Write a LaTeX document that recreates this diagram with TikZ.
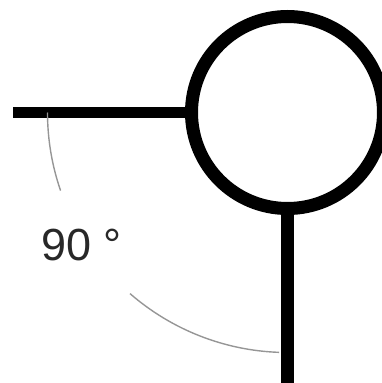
\documentclass[tikz,border=0pt]{standalone}
\usepackage{fontspec}
\setmainfont{Liberation Sans}
\usetikzlibrary{positioning}
\definecolor{ArcGray}{RGB}{150,150,150}
\definecolor{LabelGray}{RGB}{40,40,40}

\begin{document}
\begin{tikzpicture}[x=1pt,y=-1pt]
\useasboundingbox (0,0) rectangle (382,383);
\node[circle,draw,line width=13pt,minimum size=192pt,inner sep=0pt] (head) at (287.5,112.5){};
\coordinate (armend) at (13,112.5);
\coordinate (stemend) at (287.5,383);
\draw[line width=11pt] (armend)--(head.west);
\draw[line width=13pt] (head.south)--(stemend);
\draw[ArcGray,line width=1.4pt] (head.center) ++(180:240pt) arc[start angle=180,end angle=199,radius=240pt];
\draw[ArcGray,line width=1.4pt] (head.center) ++(229:240pt) arc[start angle=229,end angle=268,radius=240pt];
\node[LabelGray,font=\fontsize{45}{50}\selectfont,inner sep=0pt,anchor=base west] (angle) at (41,260){90 °};
\end{tikzpicture}
\end{document}
